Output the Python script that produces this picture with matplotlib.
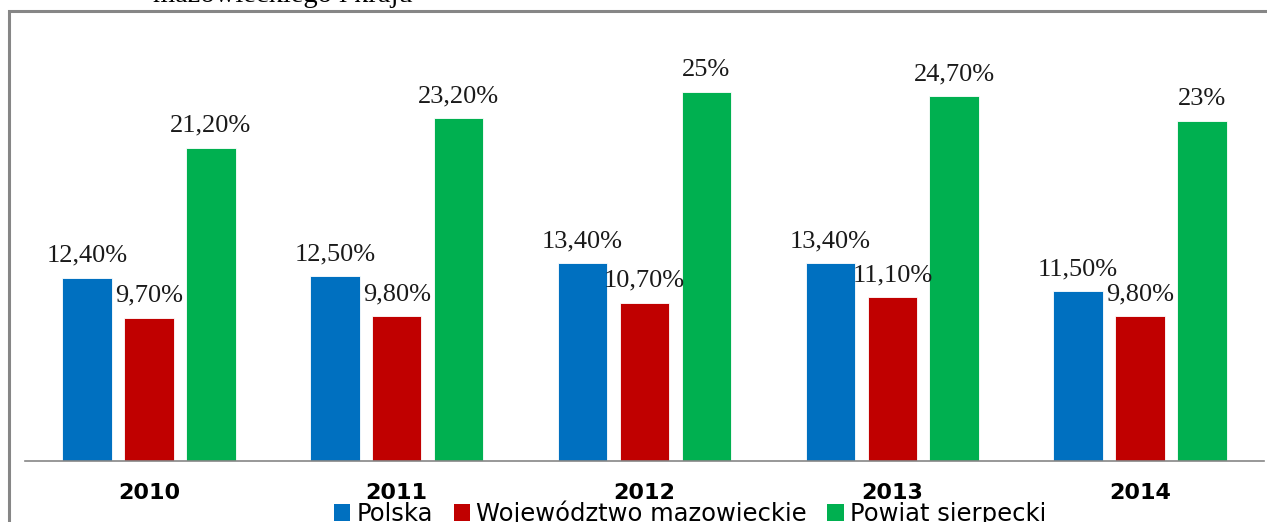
import matplotlib
matplotlib.use("Agg")
import matplotlib.pyplot as plt
from matplotlib.patches import Patch, Rectangle
import numpy as np

years = ["2010", "2011", "2012", "2013", "2014"]
series_names = ["Polska", "Województwo mazowieckie", "Powiat sierpecki"]
polska = [12.4, 12.5, 13.4, 13.4, 11.5]
mazowieckie = [9.7, 9.8, 10.7, 11.1, 9.8]
sierpecki = [21.2, 23.2, 25.0, 24.7, 23.0]
labels_polska = ["12,40%", "12,50%", "13,40%", "13,40%", "11,50%"]
labels_mazowieckie = ["9,70%", "9,80%", "10,70%", "11,10%", "9,80%"]
labels_sierpecki = ["21,20%", "23,20%", "25%", "24,70%", "23%"]
colors = ["#0070C0", "#C00000", "#00B050"]
title_text = "mazowieckiego i kraju"

W, H = 1267, 522
fig = plt.figure(figsize=(W / 100, H / 100), dpi=100)

# outer frame (cut at right and bottom)
fig.patches.append(Rectangle((9 / W, -0.2), 1.5, 1 - 11 / H + 0.2,
                             transform=fig.transFigure, fill=False,
                             edgecolor="#868686", linewidth=2.2, zorder=0))
fig.text(153 / W, 1 - 2 / H, title_text, family="Liberation Serif",
         fontsize=20.5, ha="left", va="baseline")

ax = fig.add_axes([25 / W, 1 - 461 / H, (1264 - 25) / W, 443 / H])
x = np.arange(len(years))
width = 0.2
step = 0.25
all_vals = [polska, mazowieckie, sierpecki]
all_labels = [labels_polska, labels_mazowieckie, labels_sierpecki]
for j, (vals, labs, c) in enumerate(zip(all_vals, all_labels, colors)):
    pos = x + (j - 1) * step
    bars = ax.bar(pos, vals, width, color=c, edgecolor="white", linewidth=0.6)
    for b, lab in zip(bars, labs):
        ax.annotate(lab, (b.get_x() + b.get_width() / 2, b.get_height()),
                    xytext=(0, 8), textcoords="offset points",
                    ha="center", va="bottom", family="Liberation Serif",
                    fontsize=19, color="#1a1a1a")

ax.set_xlim(-0.5, len(years) - 0.5)
ax.set_ylim(0, 30)
ax.set_xticks(x)
ax.set_xticklabels(years, fontsize=16, fontweight="bold", family="DejaVu Sans")
ax.tick_params(axis="x", length=0, pad=16)
ax.set_yticks([])
for s in ["top", "right", "left"]:
    ax.spines[s].set_visible(False)
ax.spines["bottom"].set_color("#868686")
ax.spines["bottom"].set_linewidth(1.2)
ax.patch.set_alpha(0)

handles = [Patch(facecolor=c, edgecolor="none", label=n)
           for c, n in zip(colors, series_names)]
fig.legend(handles=handles, loc="center", bbox_to_anchor=(690 / W, 1 - 513 / H),
           ncol=3, frameon=False, prop={"family": "DejaVu Sans", "size": 17.5},
           handlelength=0.68, handleheight=0.68, handletextpad=0.25,
           columnspacing=0.85, borderpad=0, borderaxespad=0)

fig.savefig("out.png", dpi=100)
